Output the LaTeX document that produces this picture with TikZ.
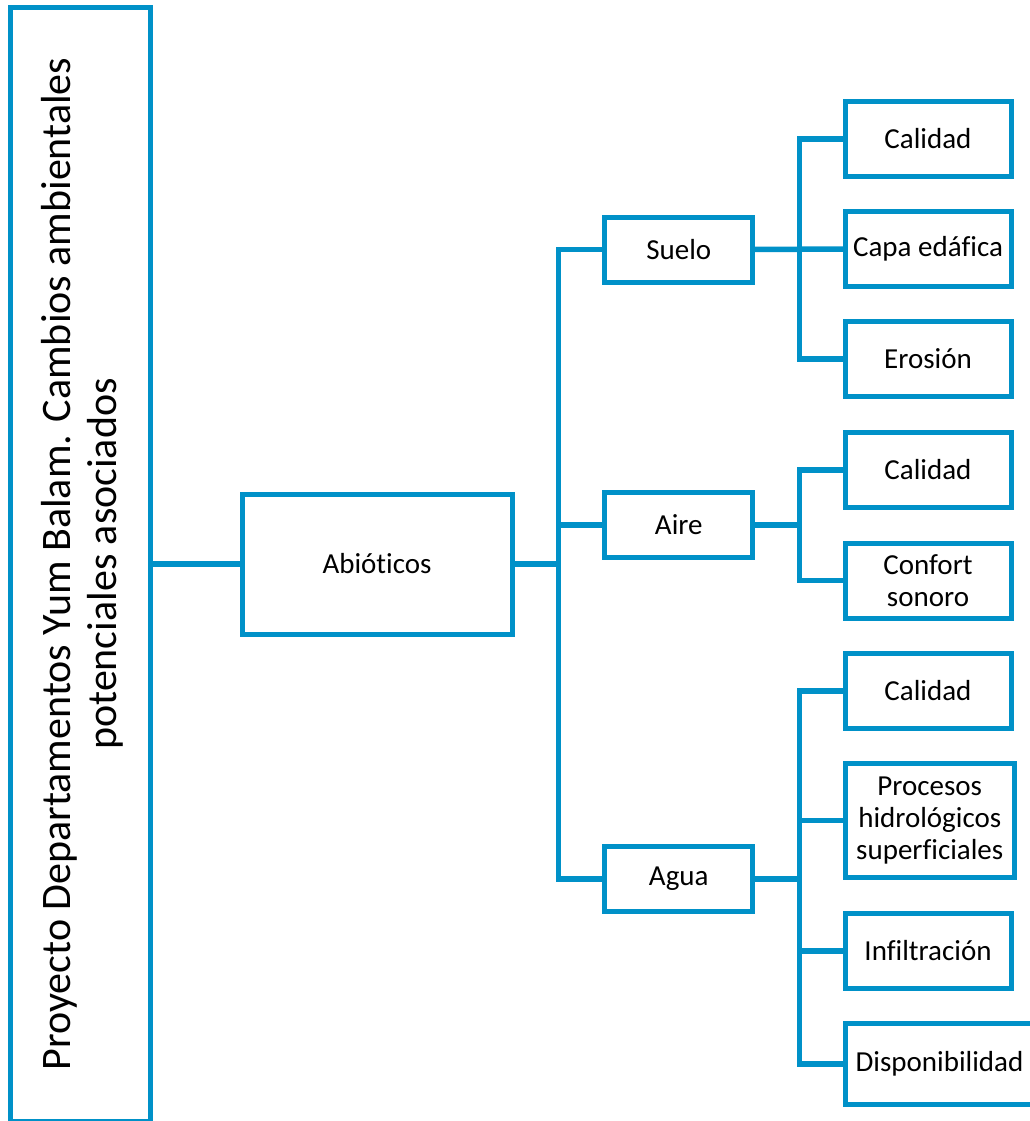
\documentclass[tikz,border=0pt]{standalone}
\usepackage{fontspec}
\setmainfont{Carlito}[Ligatures=NoCommon]
\definecolor{treeblue}{RGB}{0,145,200}
\begin{document}
\begin{tikzpicture}[x=1pt,y=-1pt,
  box/.style={draw=treeblue, line width=5pt, fill=white, inner sep=0pt, outer sep=0pt,
    align=center, font=\fontsize{29}{32}\selectfont, text=black},
  link/.style={draw=treeblue, line width=5.5pt}]
\useasboundingbox (0,0) rectangle (1030,1121);

% root, rotated title
\node[box, minimum width=140pt, minimum height=1113.5pt] (proj) at (80,564.25) {};
\node[rotate=90, align=center, font=\fontsize{42}{46}\selectfont, inner sep=0pt] (title) at (82,564)
  {Proyecto Departamentos Yum Balam. Cambios ambientales\\potenciales asociados};

% second level
\node[box, minimum width=270pt, minimum height=140pt] (abio) at (377,564) {Abióticos};

% third level
\node[box, minimum width=148pt, minimum height=65pt] (suelo) at (678.75,249.5) {Suelo};
\node[box, minimum width=148pt, minimum height=65pt] (aire)  at (678.75,525) {Aire};
\node[box, minimum width=148pt, minimum height=65pt] (agua)  at (678.75,879) {Agua};

% leaves
\node[box, minimum width=166pt, minimum height=75pt] (s1) at (928,139) {Calidad};
\node[box, minimum width=166pt, minimum height=75pt] (s2) at (928,249) {Capa edáfica};
\node[box, minimum width=166pt, minimum height=75pt] (s3) at (928,359) {Erosión};
\node[box, minimum width=166pt, minimum height=75pt] (a1) at (928,470) {Calidad};
\node[box, minimum width=166pt, minimum height=75pt] (a2) at (928,580.5) {Confort\\sonoro};
\node[box, minimum width=166pt, minimum height=75pt] (w1) at (928,691) {Calidad};
\node[box, minimum width=169.5pt, minimum height=114pt] (w2) at (929.75,820.5) {Procesos\\hidrológicos\\superficiales};
\node[box, minimum width=166pt, minimum height=75pt] (w3) at (928,951) {Infiltración};
\node[box, minimum width=189pt, minimum height=81pt] (w4) at (939.5,1064) {Disponibilidad};

% bus lines
\coordinate (trunk) at (558.5,0);
\coordinate (bus) at (799.5,0);

\draw[link] (abio.west -| proj.east) -- (abio.west);
\draw[link] (abio.east) -- (abio.east -| trunk);
\draw[link] (suelo.west) -- (suelo.west -| trunk) -- (agua.west -| trunk) -- (agua.west);
\draw[link] (aire.west -| trunk) -- (aire.west);

\draw[link] (s1.west) -- (s1.west -| bus) -- (s3.west -| bus) -- (s3.west);
\draw[link] (suelo.east) -- (s2.west);

\draw[link] (a1.west) -- (a1.west -| bus) -- (a2.west -| bus) -- (a2.west);
\draw[link] (aire.east) -- (aire.east -| bus);

\draw[link] (w1.west) -- (w1.west -| bus) -- (w4.west -| bus) -- (w4.west);
\draw[link] (agua.east) -- (agua.east -| bus);
\draw[link] (w2.west -| bus) -- (w2.west);
\draw[link] (w3.west -| bus) -- (w3.west);
\end{tikzpicture}
\end{document}
